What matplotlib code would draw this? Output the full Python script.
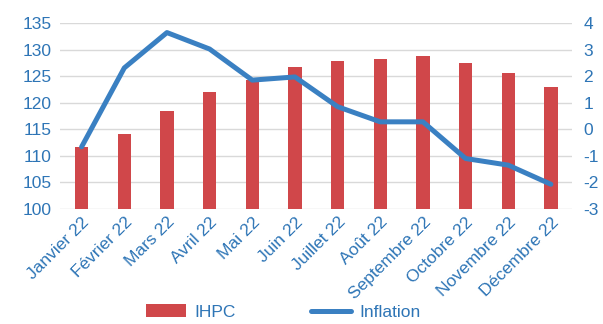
import numpy as np
import matplotlib.pyplot as plt

plt.rcParams['font.family'] = ['Liberation Sans', 'DejaVu Sans']
plt.rcParams['axes.unicode_minus'] = False

months = ["Janvier 22", "Février 22", "Mars 22", "Avril 22", "Mai 22", "Juin 22",
          "Juillet 22", "Août 22", "Septembre 22", "Octobre 22", "Novembre 22", "Décembre 22"]
ihpc = [111.7, 114.2, 118.4, 122.0, 124.2, 126.8, 127.9, 128.3, 128.7, 127.4, 125.6, 123.0]
inflation = [-0.66, 2.31, 3.64, 3.02, 1.85, 1.97, 0.85, 0.28, 0.28, -1.1, -1.35, -2.07]

red = "#D0474A"
blue = "#3A80C2"
tick_blue = "#2E75B6"

fig = plt.figure(figsize=(6.03, 3.24), dpi=100)
ax = fig.add_axes([0.1, 0.355, 0.849, 0.574])
x = np.arange(len(months))

ax.bar(x, ihpc, width=0.31, color=red, label="IHPC", zorder=2)
ax.set_ylim(100, 135)
ax.set_yticks(np.arange(100, 136, 5))
ax.set_xlim(-0.5, len(months) - 0.5)
ax.grid(axis='y', color="#D9D9D9", linewidth=1, zorder=0)
ax.set_axisbelow(True)
ax.set_xticks(x)
ax.set_xticklabels(months, rotation=45, ha='right', rotation_mode='anchor')

ax2 = ax.twinx()
ax2.plot(x, inflation, color=blue, linewidth=3.6, label="Inflation", solid_capstyle='round', zorder=3)
ax2.set_ylim(-3, 4)
ax2.set_yticks(np.arange(-3, 5, 1))

for a in (ax, ax2):
    for s in a.spines.values():
        s.set_visible(False)
    a.tick_params(length=0, labelsize=12.5, labelcolor=tick_blue)
ax.tick_params(axis='x', pad=4)
ax.tick_params(axis='y', pad=6)
ax2.tick_params(axis='y', pad=8)

h1, l1 = ax.get_legend_handles_labels()
h2, l2 = ax2.get_legend_handles_labels()
fig.legend(h1 + h2, l1 + l2, loc='center', bbox_to_anchor=(0.47, 0.037), ncol=2,
           frameon=False, fontsize=12.5, labelcolor=tick_blue, handlelength=2.3,
           handleheight=0.7, columnspacing=4.3, handletextpad=0.5)

fig.savefig("out.png", dpi=100)
